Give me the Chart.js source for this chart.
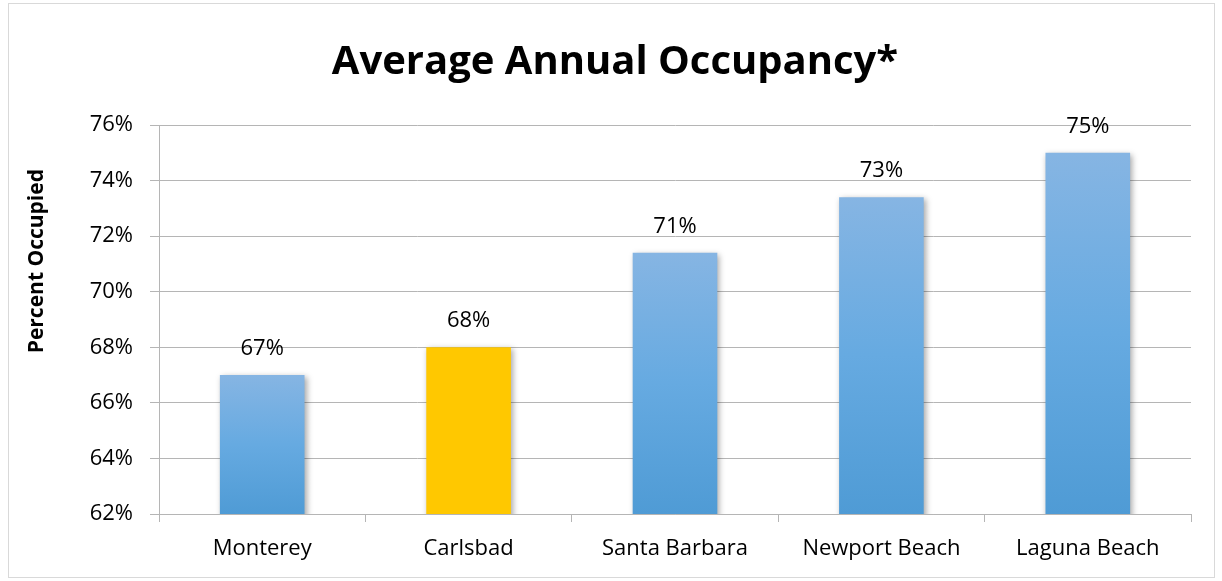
<!DOCTYPE html>
<html>
<head>
<meta charset="utf-8">
<script src="https://cdn.jsdelivr.net/npm/chart.js@4.4.1/dist/chart.umd.min.js"></script>
<style>
  html, body { margin: 0; padding: 0; background: #fff; overflow: hidden; }
  #wrap { position: relative; width: 1222px; height: 581px; }
</style>
</head>
<body>
<div id="wrap"><canvas id="chart-occupancy" width="1222" height="581"></canvas></div>
<script>
const cities = ['Monterey', 'Carlsbad', 'Santa Barbara', 'Newport Beach', 'Laguna Beach'];
const occupancy = [67, 68, 71.4, 73.4, 75];
const highlightCity = 'Carlsbad';
const yTicks = [62, 64, 66, 68, 70, 72, 74, 76];
const yTitle = 'Percent Occupied';

const gridGray = '#b5b5b5';

// outer frame like the spreadsheet chart box
const framePlugin = {
    id: 'frame',
    beforeDraw(chart) {
        const ctx = chart.ctx;
        ctx.save();
        ctx.fillStyle = '#fff';
        ctx.fillRect(0, 0, chart.width, chart.height);
        ctx.strokeStyle = '#d9d9d9';
        ctx.lineWidth = 1;
        ctx.strokeRect(8.5, 3.5, 1206, 574);
        ctx.restore();
    }
};

// y axis title sits a bit above the middle, as in the original
const yTitlePlugin = {
    id: 'yTitle',
    afterDraw(chart) {
        const ctx = chart.ctx;
        const area = chart.chartArea;
        ctx.save();
        ctx.translate(37, area.top + (area.bottom - area.top) * 0.35);
        ctx.rotate(-Math.PI / 2);
        ctx.font = 'bold 21px "Open Sans"';
        ctx.fillStyle = '#000';
        ctx.textAlign = 'center';
        ctx.textBaseline = 'middle';
        ctx.fillText(yTitle, 0, 0);
        ctx.restore();
    }
};

const shadowPlugin = {
    id: 'barShadow',
    beforeDatasetsDraw(chart) {
        const ctx = chart.ctx;
        ctx.save();
        ctx.shadowColor = 'rgba(0,0,0,0.35)';
        ctx.shadowBlur = 6;
        ctx.shadowOffsetX = 2;
        ctx.shadowOffsetY = 2;
    },
    afterDatasetsDraw(chart) {
        chart.ctx.restore();
    }
};

const valueLabels = {
    id: 'valueLabels',
    afterDatasetsDraw(chart) {
        const ctx = chart.ctx;
        const meta = chart.getDatasetMeta(0);
        ctx.save();
        ctx.font = '22px "Open Sans"';
        ctx.fillStyle = '#000';
        ctx.textAlign = 'center';
        ctx.textBaseline = 'alphabetic';
        meta.data.forEach((bar, i) => {
            ctx.fillText(Math.round(occupancy[i]) + '%', bar.x, bar.y - 20);
        });
        ctx.restore();
    }
};

const canvas = document.getElementById('chart-occupancy');

new Chart(canvas, {
    type: 'bar',
    data: {
        labels: cities,
        datasets: [{
            label: yTitle,
            data: occupancy,
            backgroundColor: function (context) {
                const chart = context.chart;
                if (!chart.chartArea) return '#64a8e0';
                if (cities[context.dataIndex] === highlightCity) return '#ffc800';
                const y = chart.scales.y;
                const top = y.getPixelForValue(occupancy[context.dataIndex]);
                const bottom = y.getPixelForValue(yTicks[0]);
                const g = chart.ctx.createLinearGradient(0, top, 0, bottom);
                g.addColorStop(0, '#86b5e3');
                g.addColorStop(0.5, '#66aae1');
                g.addColorStop(1, '#4f9bd5');
                return g;
            },
            borderWidth: 0,
            barPercentage: 0.41,
            categoryPercentage: 1.0
        }]
    },
    options: {
        responsive: false,
        animation: false,
        layout: {
            padding: { left: 8, right: 0, top: 0, bottom: 0 }
        },
        plugins: {
            legend: { display: false },
            tooltip: { enabled: false },
            title: {
                display: true,
                text: 'Average Annual Occupancy*',
                color: '#000',
                font: { family: '"Open Sans"', size: 40, weight: 'bold', lineHeight: 1.2 },
                padding: { top: 39, bottom: 38 }
            }
        },
        scales: {
            x: {
                offset: true,
                grid: {
                    offset: true,
                    drawOnChartArea: false,
                    color: gridGray,
                    tickLength: 8
                },
                border: { color: gridGray },
                ticks: {
                    color: '#000',
                    padding: 14,
                    font: { family: '"Open Sans"', size: 22 }
                },
                afterFit(scale) { scale.height = 67; }
            },
            y: {
                min: 62,
                max: 76,
                afterBuildTicks(scale) {
                    scale.ticks = yTicks.map(v => ({ value: v }));
                },
                grid: {
                    color: gridGray,
                    tickLength: 9
                },
                border: { color: gridGray },
                ticks: {
                    color: '#000',
                    padding: 17,
                    font: { family: '"Open Sans"', size: 22 },
                    callback: v => v + '%'
                },
                afterFit(scale) { scale.width = 151; }
            },
            // empty spacer on the right so the title centres on the whole box
            spacer: {
                type: 'linear',
                position: 'right',
                display: true,
                grid: { display: false },
                border: { display: false },
                ticks: { display: false },
                afterFit(scale) { scale.width = 31; }
            }
        }
    },
    plugins: [framePlugin, yTitlePlugin, shadowPlugin, valueLabels]
});
</script>
</body>
</html>
